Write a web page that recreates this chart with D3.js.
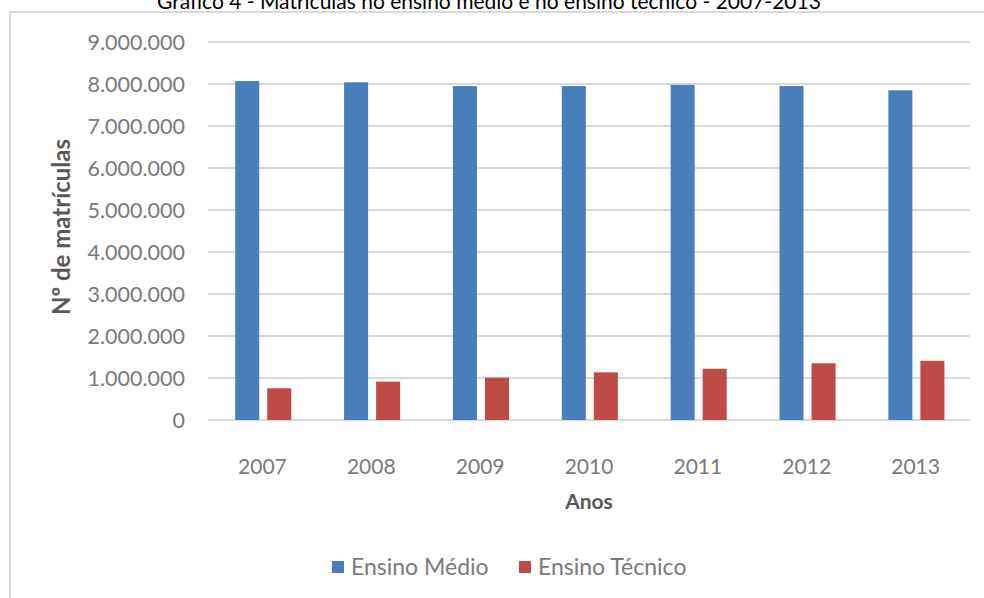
<!DOCTYPE html>
<html>
<head>
<meta charset="utf-8">
<script src="https://cdn.jsdelivr.net/npm/d3@7"></script>
<style>
  html, body { margin: 0; padding: 0; background: #fff; }
  svg { display: block; }
  text { font-family: Lato, "Open Sans", sans-serif; }
</style>
</head>
<body>
<svg id="chart" width="984" height="598"></svg>
<script>
const years = ["2007", "2008", "2009", "2010", "2011", "2012", "2013"];
const seriesNames = ["Ensino Médio", "Ensino Técnico"];
const ensinoMedio = [8070000, 8040000, 7950000, 7950000, 7980000, 7950000, 7850000];
const ensinoTecnico = [755000, 913000, 1008000, 1135000, 1220000, 1350000, 1410000];
const yTicks = [0, 1000000, 2000000, 3000000, 4000000, 5000000, 6000000, 7000000, 8000000, 9000000];
const colors = ["#4a7ebb", "#be4b48"];
const titleText = "Gráfico 4 - Matrículas no ensino médio e no ensino técnico - 2007-2013";
const yTitle = "Nº de matrículas";
const xTitle = "Anos";

const svg = d3.select("#chart");
const plot = { left: 208, right: 970, top: 42, bottom: 420 };

const locale = d3.formatLocale({ decimal: ",", thousands: ".", grouping: [3], currency: ["", ""] });
const fmt = locale.format(",d");

// frame
svg.append("rect")
  .attr("x", 10).attr("y", 12)
  .attr("width", 1000).attr("height", 620)
  .attr("fill", "#fff")
  .attr("stroke", "#d9d9d9").attr("stroke-width", 2);

// title
svg.append("text")
  .attr("x", 489).attr("y", 9)
  .attr("text-anchor", "middle")
  .attr("font-size", 21)
  .attr("fill", "#000")
  .text(titleText);

const x0 = d3.scaleBand().domain(years).range([plot.left, plot.right]).paddingInner(0).paddingOuter(0);
const step = x0.step();
const x1 = d3.scaleBand().domain(seriesNames).range([step * 0.25, step * 0.765]).paddingInner(0.25);
const y = d3.scaleLinear().domain([0, 9000000]).range([plot.bottom, plot.top]);

// gridlines
svg.append("g")
  .selectAll("line")
  .data(yTicks)
  .join("line")
  .attr("x1", plot.left).attr("x2", plot.right)
  .attr("y1", d => y(d)).attr("y2", d => y(d))
  .attr("stroke", "#d9d9d9").attr("stroke-width", 2);

// y axis labels
const yAxis = d3.axisLeft(y).tickValues(yTicks).tickFormat(fmt).tickSize(0).tickPadding(0);
const gy = svg.append("g").attr("transform", `translate(185,0)`).call(yAxis);
gy.select(".domain").remove();
gy.selectAll("text")
  .attr("font-family", "Lato, 'Open Sans', sans-serif")
  .attr("font-size", 21.5)
  .attr("fill", "#7a7a7a")
  .attr("dy", "0.35em");

// x axis labels
const xAxis = d3.axisBottom(x0).tickSize(0).tickPadding(0);
const gx = svg.append("g").attr("transform", `translate(0,${plot.bottom})`).call(xAxis);
gx.select(".domain").remove();
gx.selectAll("text")
  .attr("font-family", "Lato, 'Open Sans', sans-serif")
  .attr("font-size", 21)
  .attr("fill", "#7a7a7a")
  .attr("dy", null)
  .attr("y", 54);

// bars
const data = years.map((yr, i) => ({ year: yr, values: [ensinoMedio[i], ensinoTecnico[i]] }));
const groups = svg.append("g").selectAll("g")
  .data(data)
  .join("g")
  .attr("transform", d => `translate(${x0(d.year)},0)`);
groups.selectAll("rect")
  .data(d => d.values.map((v, j) => ({ name: seriesNames[j], value: v, j })))
  .join("rect")
  .attr("x", d => x1(d.name))
  .attr("width", x1.bandwidth())
  .attr("y", d => y(d.value))
  .attr("height", d => y(0) - y(d.value))
  .attr("fill", d => colors[d.j]);

// axis titles
svg.append("text")
  .attr("transform", `translate(70,${(plot.top + plot.bottom) / 2 - 4}) rotate(-90)`)
  .attr("text-anchor", "middle")
  .attr("font-size", 24)
  .attr("font-weight", "bold")
  .attr("fill", "#595959")
  .text(yTitle);

svg.append("text")
  .attr("x", (plot.left + plot.right) / 2).attr("y", 509)
  .attr("text-anchor", "middle")
  .attr("font-size", 21)
  .attr("font-weight", "bold")
  .attr("fill", "#595959")
  .text(xTitle);

// legend
const legendX = [332, 519];
const lg = svg.append("g").selectAll("g")
  .data(seriesNames)
  .join("g")
  .attr("transform", (d, i) => `translate(${legendX[i]},561)`);
lg.append("rect").attr("width", 12).attr("height", 12).attr("fill", (d, i) => colors[i]);
lg.append("text")
  .attr("x", 19).attr("y", 6).attr("dy", "0.35em")
  .attr("font-size", 23)
  .attr("fill", "#7a7a7a")
  .text(d => d);
</script>
</body>
</html>
